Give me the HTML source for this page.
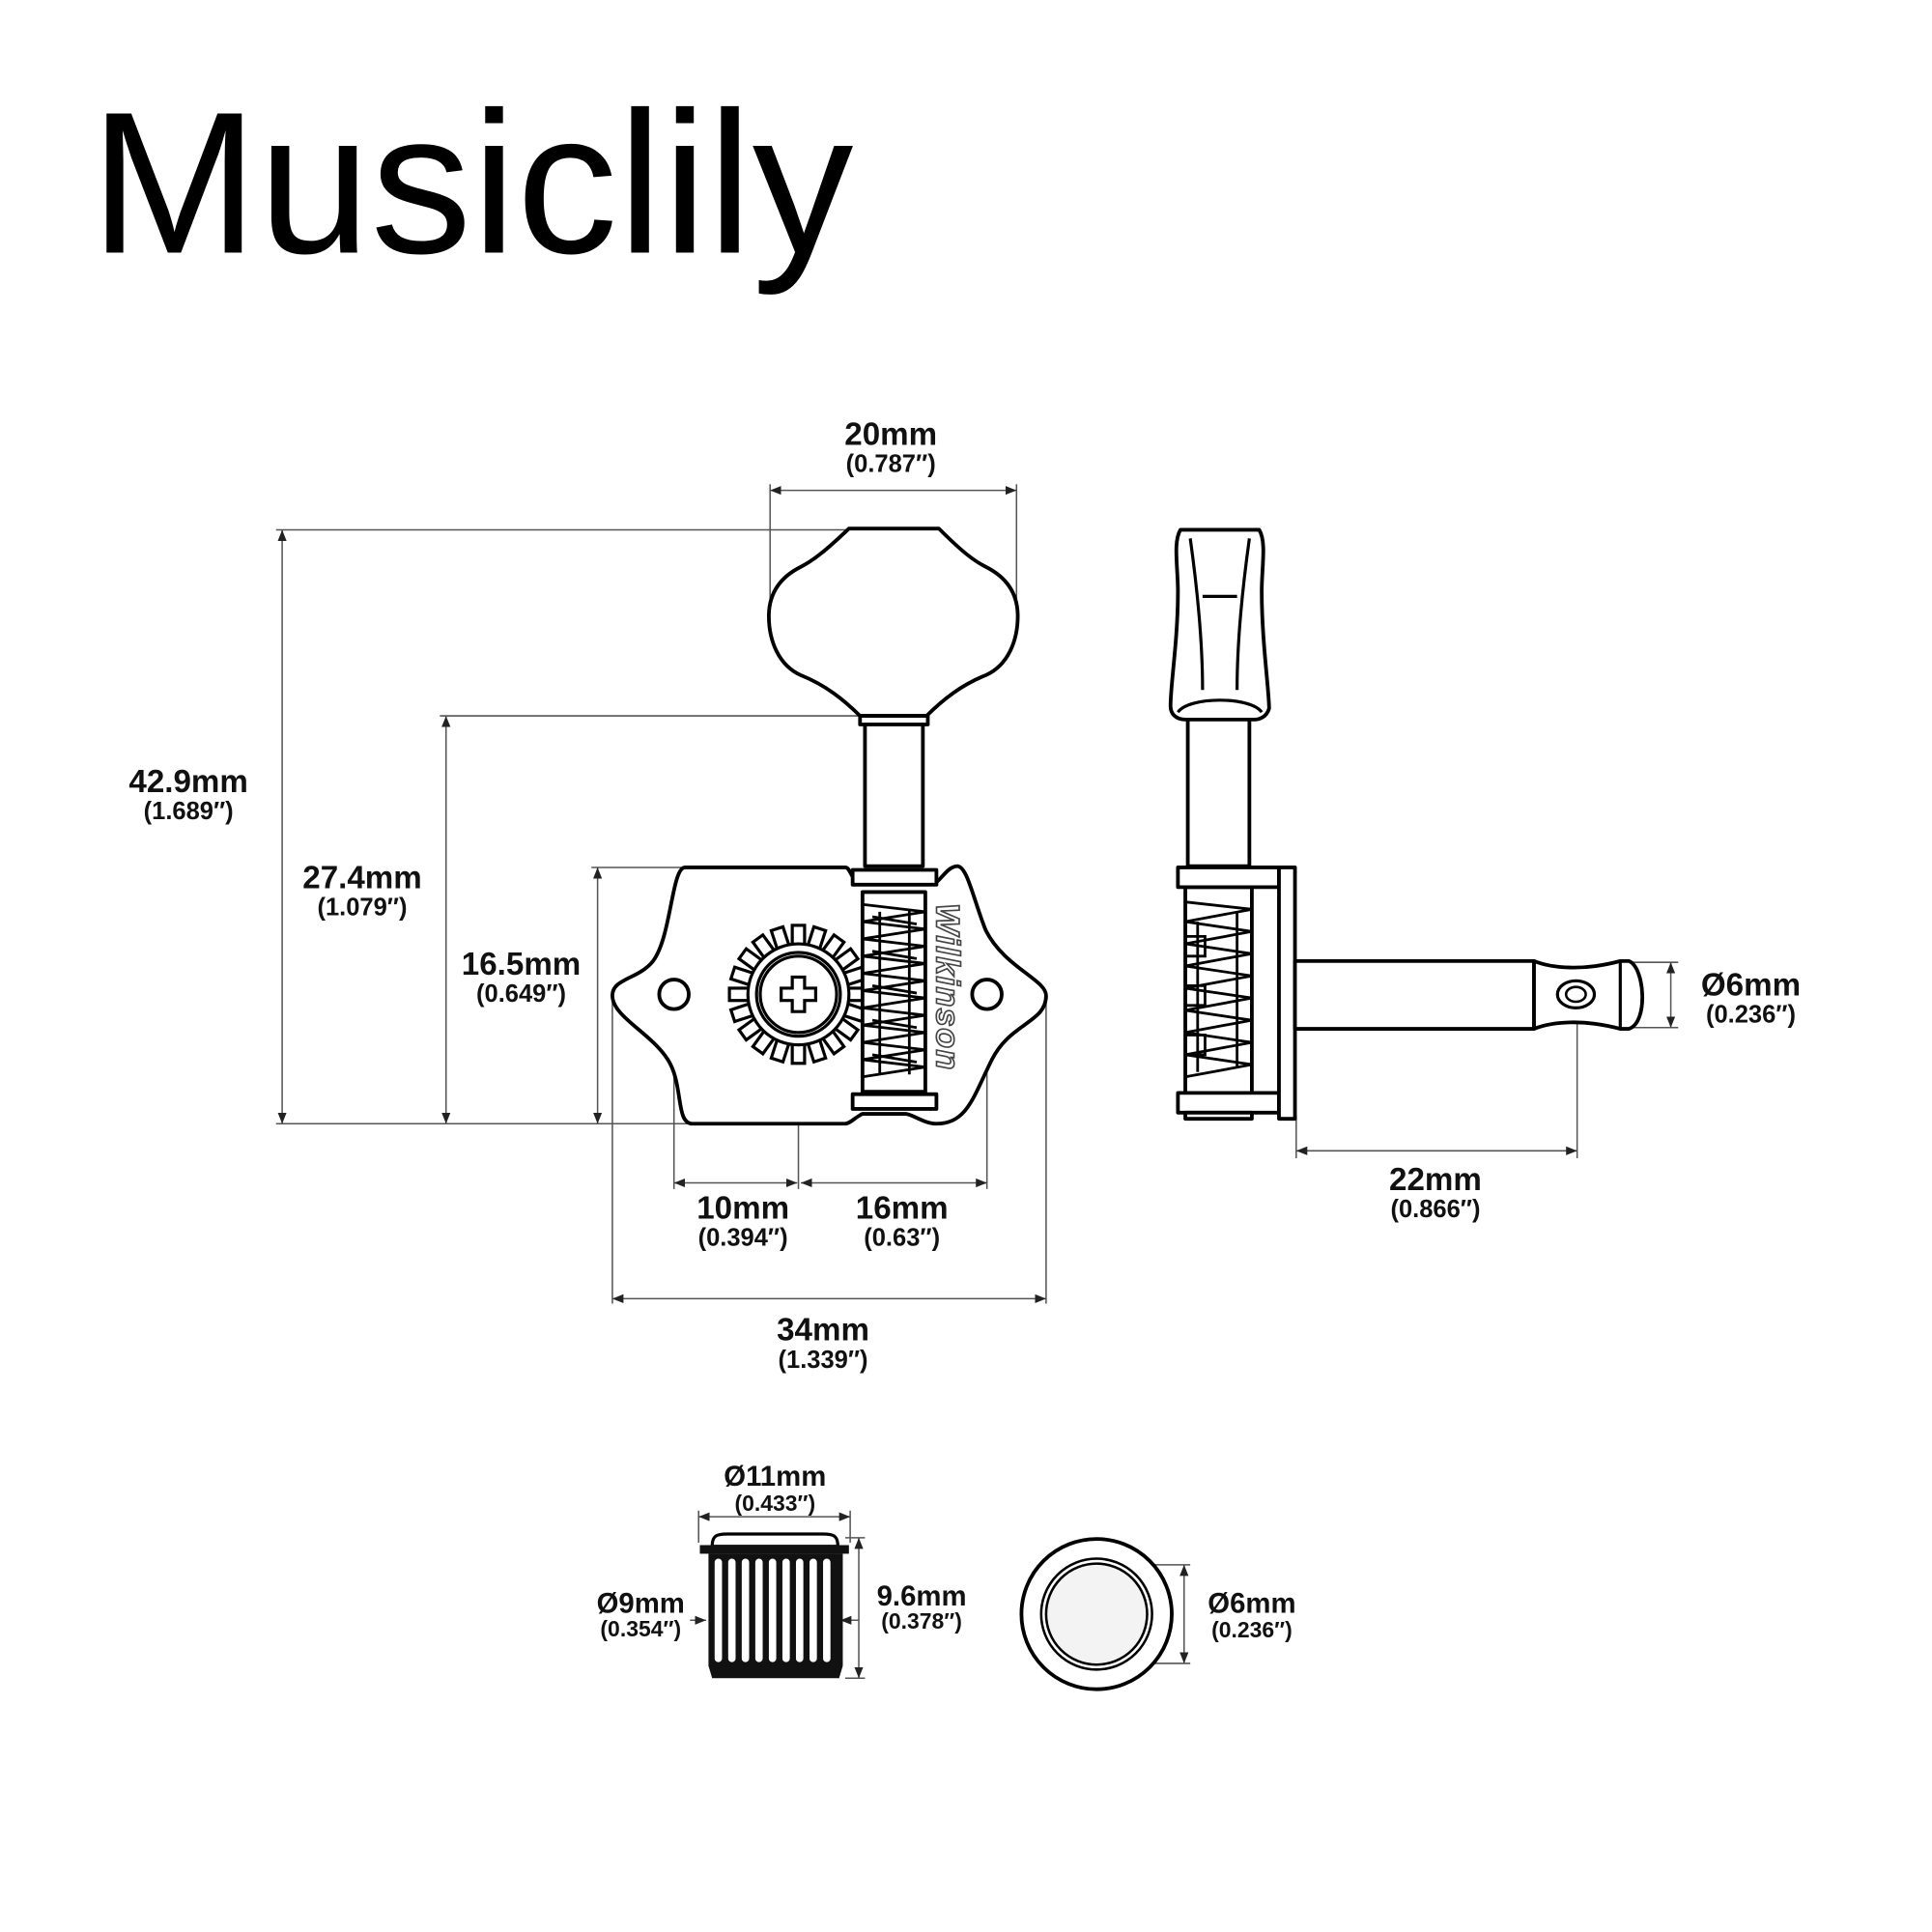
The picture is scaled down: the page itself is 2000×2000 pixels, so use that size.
<!DOCTYPE html>
<html><head><meta charset="utf-8"><style>
html,body{margin:0;padding:0;background:#fff;width:2000px;height:2000px;overflow:hidden}
svg{display:block}
.t{font-family:"Liberation Sans",Arial,sans-serif;font-weight:bold;fill:#111;text-anchor:middle}
.mm{font-size:26px}.in{font-size:20px}
.d{stroke:#555;stroke-width:1.2;fill:none}
.o{stroke:#000;stroke-width:3;fill:#fff;stroke-linejoin:round}
</style></head><body>
<svg width="2000" height="2000" viewBox="0 0 1568 1568" xmlns="http://www.w3.org/2000/svg">
<defs>
<marker id="a" viewBox="0 0 10 10" refX="10" refY="5" markerWidth="9" markerHeight="9" orient="auto-start-reverse" markerUnits="userSpaceOnUse"><path d="M0,1 L10,5 L0,9 Z" fill="#222"/></marker>
</defs>
<text x="73" y="205" style="font-family:'Liberation Sans',Arial,sans-serif;font-size:164px;fill:#000">Musiclily</text>

<g class="d">
<line x1="625" y1="393" x2="625" y2="495"/><line x1="825" y1="393" x2="825" y2="495"/>
<line x1="224" y1="430" x2="700" y2="430"/><line x1="224" y1="912" x2="560" y2="912"/>
<line x1="357" y1="581" x2="700" y2="581"/>
<line x1="480" y1="704" x2="556" y2="704"/>
<line x1="497" y1="808" x2="497" y2="1058"/><line x1="849" y1="812" x2="849" y2="1058"/>
<line x1="547" y1="807" x2="547" y2="965"/><line x1="648" y1="807" x2="648" y2="965"/><line x1="801" y1="807" x2="801" y2="965"/>
<line x1="1052" y1="905" x2="1052" y2="940"/><line x1="1280" y1="808" x2="1280" y2="940"/>
<line x1="1315" y1="781" x2="1362" y2="781"/><line x1="1315" y1="834" x2="1362" y2="834"/>
<line x1="567" y1="1226" x2="567" y2="1252"/><line x1="690" y1="1226" x2="690" y2="1252"/>
<line x1="686" y1="1248" x2="702" y2="1248"/><line x1="686" y1="1362" x2="702" y2="1362"/>
<line x1="890" y1="1270" x2="966" y2="1270"/><line x1="890" y1="1350" x2="966" y2="1350"/>
</g>
<g class="d" marker-start="url(#a)" marker-end="url(#a)">
<line x1="625" y1="398" x2="825" y2="398"/>
<line x1="229" y1="430" x2="229" y2="912"/>
<line x1="362" y1="581" x2="362" y2="912"/>
<line x1="485" y1="704" x2="485" y2="912"/>
<line x1="547" y1="960" x2="647" y2="960"/>
<line x1="650" y1="960" x2="801" y2="960"/>
<line x1="497" y1="1054" x2="849" y2="1054"/>
<line x1="1052" y1="934" x2="1280" y2="934"/>
<line x1="1356" y1="781" x2="1356" y2="834"/>
<line x1="567" y1="1231" x2="690" y2="1231"/>
<line x1="697" y1="1248" x2="697" y2="1362"/>
<line x1="961" y1="1270" x2="961" y2="1350"/>
</g>
<g class="d" marker-end="url(#a)">
<line x1="560" y1="1315" x2="573" y2="1315"/>
<line x1="697" y1="1315" x2="682" y2="1315"/>
</g>

<path class="o" d="M689,429 L762,429 C780,447 790,455 800,460 C820,470 826,485 826,500 C826,520 818,540 800,548 C780,556 765,568 752,581 L698,581 C685,568 670,556 650,548 C632,540 624,520 624,500 C624,485 630,470 650,460 C660,455 670,447 689,429 Z"/>
<rect class="o" x="698" y="581" width="55" height="7" stroke-width="2.5"/>
<rect class="o" x="702" y="588" width="47" height="115"/>
<path class="o" d="M556,704 L686,704 C690,704 690,712 696,716 L760,716 C765,712 770,703 777,703 C785,703 790,730 800,755 C815,785 849,795 849,808 C849,830 820,830 805,860 C790,890 785,912 760,912 C750,912 740,904 735,904 L700,904 C695,906 690,912 686,912 L562,912 C548,912 555,880 542,860 C528,838 497,825 497,808 C497,794 518,795 530,780 C545,760 545,704 556,704 Z"/>
<circle class="o" cx="547" cy="807" r="12" stroke-width="2.5"/>
<circle class="o" cx="801" cy="807" r="12" stroke-width="2.5"/>
<g transform="translate(648,807)" stroke="#000" stroke-width="2.5" fill="#fff">
<g id="teeth"><rect x="-5" y="-56" width="10" height="16"/></g>
<use href="#teeth" transform="rotate(18)"/><use href="#teeth" transform="rotate(36)"/><use href="#teeth" transform="rotate(54)"/><use href="#teeth" transform="rotate(72)"/><use href="#teeth" transform="rotate(90)"/><use href="#teeth" transform="rotate(108)"/><use href="#teeth" transform="rotate(126)"/><use href="#teeth" transform="rotate(144)"/><use href="#teeth" transform="rotate(162)"/><use href="#teeth" transform="rotate(180)"/><use href="#teeth" transform="rotate(198)"/><use href="#teeth" transform="rotate(216)"/><use href="#teeth" transform="rotate(234)"/><use href="#teeth" transform="rotate(252)"/><use href="#teeth" transform="rotate(270)"/><use href="#teeth" transform="rotate(288)"/><use href="#teeth" transform="rotate(306)"/><use href="#teeth" transform="rotate(324)"/><use href="#teeth" transform="rotate(342)"/>
<circle r="41"/>
<circle r="34"/><circle r="31"/>
<path d="M-5,-14 L5,-14 L5,-5 L14,-5 L14,5 L5,5 L5,14 L-5,14 L-5,5 L-14,5 L-14,-5 L-5,-5 Z"/>
</g>
<rect class="o" x="700" y="724" width="51" height="162"/>
<rect class="o" x="692" y="706" width="68" height="12"/>
<rect class="o" x="692" y="888" width="68" height="12"/>
<path d="M700,734 L751,740 L700,748 L751,754 L700,762 L751,768 L700,776 L751,782 L700,790 L751,796 L700,804 L751,810 L700,818 L751,824 L700,832 L751,838 L700,846 L751,852 L700,860 L751,866 L700,874 M708,744 L744,750 M708,772 L744,778 M708,800 L744,806 M708,828 L744,834 M708,856 L744,862 M714,740 L714,872 M738,738 L738,872" stroke="#000" stroke-width="2.2" fill="none"/>
<text x="0" y="0" transform="translate(760,733) rotate(90)" style="font-family:'Liberation Sans',Arial,sans-serif;font-weight:bold;font-style:italic;font-size:27px;letter-spacing:1px;fill:#fff;stroke:#444;stroke-width:1.3">Wilkinson</text>

<path class="o" d="M958,430 L1022,430 C1028,440 1024,460 1024,480 C1024,520 1030,560 1030,575 C1028,582 1022,584 1018,584 L962,584 C955,584 950,580 950,573 C950,555 956,520 956,480 C956,460 952,440 958,430 Z"/>
<path d="M966,437 C972,480 976,520 976,560 M1014,437 C1008,480 1004,520 1004,560 M976,484 L1004,484 M956,578 C965,565 1015,565 1024,578" stroke="#000" stroke-width="2.5" fill="none"/>
<rect class="o" x="964" y="584" width="50" height="119"/>
<rect class="o" x="962" y="720" width="54" height="167"/>
<path d="M962,732 L1016,738 L962,748 L1016,756 L962,766 L1016,774 L962,784 L1016,792 L962,802 L1016,810 L962,820 L1016,828 L962,838 L1016,846 L962,856 L1016,864 L962,874 M972,748 L972,870 M1004,740 L1004,866 M962,760 L978,760 L978,776 L962,776 M962,800 L978,800 L978,816 L962,816 M962,840 L978,840 L978,856 L962,856" stroke="#000" stroke-width="2.2" fill="none"/>
<rect class="o" x="956" y="704" width="82" height="16"/>
<rect class="o" x="956" y="887" width="82" height="16"/>
<rect class="o" x="962" y="903" width="54" height="5" stroke-width="2"/>
<rect class="o" x="1038" y="704" width="13" height="204"/>
<rect class="o" x="1051" y="780" width="194" height="55" stroke-width="2.5"/>
<path class="o" stroke-width="2.5" d="M1245,780 C1260,786 1285,788 1315,780 L1322,780 C1335,785 1338,830 1322,835 L1315,835 C1285,827 1260,829 1245,835 Z"/>
<line x1="1315" y1="780" x2="1315" y2="835" stroke="#000" stroke-width="2.5"/>
<ellipse cx="1279" cy="807" rx="15" ry="11" stroke="#000" stroke-width="2.5" fill="#fff"/>
<ellipse cx="1279" cy="807" rx="8" ry="6" stroke="#000" stroke-width="2" fill="#fff"/>

<path d="M578,1255 C578,1246 582,1245 590,1245 L668,1245 C676,1245 680,1246 680,1255 Z" fill="#fff" stroke="#000" stroke-width="2.5"/>
<rect x="568" y="1254" width="121" height="7" fill="#111"/>
<path d="M575,1261 L684,1261 L684,1352 L681,1362 L578,1362 L575,1352 Z" fill="#111"/>
<g fill="#fff">
<rect x="580" y="1265" width="6" height="84" rx="3"/><rect x="591" y="1265" width="6" height="84" rx="3"/><rect x="602" y="1265" width="6" height="84" rx="3"/><rect x="613" y="1265" width="6" height="84" rx="3"/><rect x="624" y="1265" width="6" height="84" rx="3"/><rect x="635" y="1265" width="6" height="84" rx="3"/><rect x="646" y="1265" width="6" height="84" rx="3"/><rect x="657" y="1265" width="6" height="84" rx="3"/><rect x="668" y="1265" width="6" height="84" rx="3"/>
</g>
<circle cx="890" cy="1310" r="61" fill="#fff" stroke="#000" stroke-width="3"/>
<circle cx="890" cy="1310" r="45" fill="#fff" stroke="#000" stroke-width="2"/>
<circle cx="890" cy="1310" r="41" fill="#f3f3f3" stroke="#000" stroke-width="2"/>

<g class="t">
<text class="mm" x="723" y="361">20mm</text><text class="in" x="723" y="383">(0.787″)</text>
<text class="mm" x="153" y="643">42.9mm</text><text class="in" x="153" y="665">(1.689″)</text>
<text class="mm" x="294" y="721">27.4mm</text><text class="in" x="294" y="743">(1.079″)</text>
<text class="mm" x="423" y="791">16.5mm</text><text class="in" x="423" y="813">(0.649″)</text>
<text class="mm" x="603" y="989">10mm</text><text class="in" x="603" y="1011">(0.394″)</text>
<text class="mm" x="732" y="989">16mm</text><text class="in" x="732" y="1011">(0.63″)</text>
<text class="mm" x="668" y="1088">34mm</text><text class="in" x="668" y="1110">(1.339″)</text>
<text class="mm" x="1165" y="966">22mm</text><text class="in" x="1165" y="988">(0.866″)</text>
<text class="mm" x="1421" y="808">Ø6mm</text><text class="in" x="1421" y="830">(0.236″)</text>
<text class="mm" x="629" y="1206" style="font-size:23px">Ø11mm</text><text class="in" x="629" y="1226" style="font-size:18px">(0.433″)</text>
<text class="mm" x="520" y="1309" style="font-size:23px">Ø9mm</text><text class="in" x="520" y="1328" style="font-size:18px">(0.354″)</text>
<text class="mm" x="748" y="1303" style="font-size:23px">9.6mm</text><text class="in" x="748" y="1322" style="font-size:18px">(0.378″)</text>
<text class="mm" x="1016" y="1309" style="font-size:23px">Ø6mm</text><text class="in" x="1016" y="1329" style="font-size:18px">(0.236″)</text>
</g>
</svg>
</body></html>
